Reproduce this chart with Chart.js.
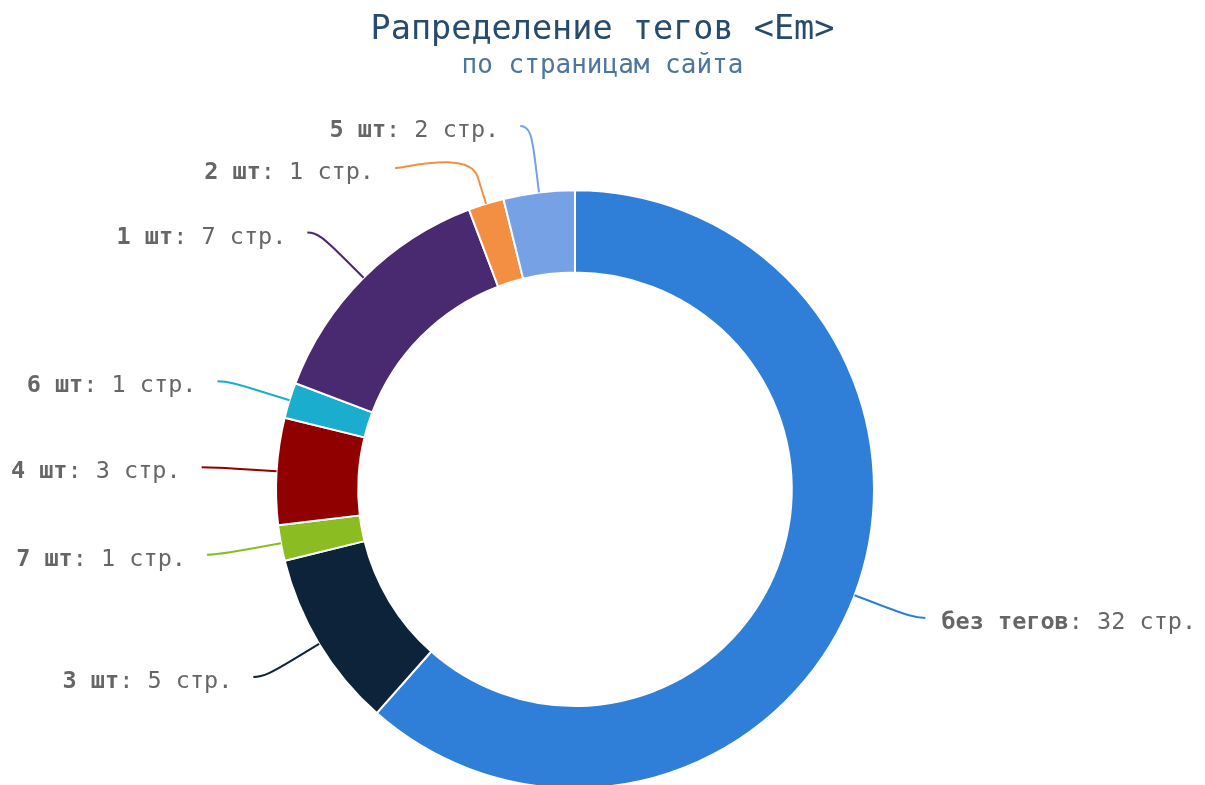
<!DOCTYPE html>
<html lang="ru">
<head>
<meta charset="utf-8">
<title>Рапределение тегов &lt;Em&gt;</title>
<script src="https://cdn.jsdelivr.net/npm/chart.js@4.4.1/dist/chart.umd.min.js"></script>
<style>
  html, body { margin: 0; padding: 0; background: #fff; overflow: hidden; }
  #wrap { position: relative; width: 1205px; height: 800px; }
</style>
</head>
<body>
<div id="wrap"><canvas id="grafico-em"></canvas></div>
<script>
const categorias = ['без тегов', '3 шт', '7 шт', '4 шт', '6 шт', '1 шт', '2 шт', '5 шт'];
const paginas = [32, 5, 1, 3, 1, 7, 1, 2];
const colores = ['#2f7ed8', '#0d233a', '#8bbc21', '#910000', '#1aadce', '#492970', '#f28f43', '#77a1e5'];
const sufijo = ' стр.';

const fuente = "'DejaVu Sans Mono', 'Liberation Mono', monospace";

// empuja la dona a la izquierda, sin mover los titulos
const espaciador = {
  position: 'right',
  weight: 0,
  fullSize: false,
  options: {},
  width: 0, height: 0, left: 0, top: 0, right: 0, bottom: 0,
  isHorizontal() { return false; },
  update(maxWidth, maxHeight) { this.width = 55; this.height = maxHeight; },
  draw() {}
};

// reparte las etiquetas de un lado para que no se encimen
const repartir = (items, minY, maxY, size) => {
  items.sort((a, b) => a.target - b.target);
  const colocar = g => {
    g.pos = Math.min(Math.max(g.target - g.size / 2, minY), maxY - g.size);
  };
  let grupos = items.map(it => ({ items: [it], target: it.target, size }));
  grupos.forEach(colocar);
  let cambio = true;
  while (cambio) {
    cambio = false;
    for (let i = 0; i < grupos.length - 1; i++) {
      const a = grupos[i], b = grupos[i + 1];
      if (a.pos + a.size > b.pos + 0.01) {
        const todos = a.items.concat(b.items);
        const g = { items: todos, size: a.size + b.size, target: todos.reduce((s, it) => s + it.target, 0) / todos.length };
        colocar(g);
        grupos.splice(i, 2, g);
        cambio = true;
        break;
      }
    }
  }
  grupos.forEach(g => g.items.forEach((it, k) => { it.y = g.pos + size * k + size / 2; }));
};

const etiquetasPlugin = {
  id: 'etiquetas',
  beforeInit(chart) {
    Chart.layouts.addBox(chart, espaciador);
  },
  afterDraw(chart, args, opts) {
    const meta = chart.getDatasetMeta(0);
    const ctx = chart.ctx;
    const izq = [], der = [];

    meta.data.forEach((arc, i) => {
      const a = (arc.startAngle + arc.endAngle) / 2;
      const r = arc.outerRadius;
      const R = r + opts.distancia;
      const item = { i, cos: Math.cos(a), sin: Math.sin(a), cx: arc.x, cy: arc.y, r, R };
      item.target = arc.y + R * item.sin;
      (item.cos < 0 ? izq : der).push(item);
    });

    repartir(izq, opts.arriba, opts.abajo, opts.alto);
    repartir(der, opts.arriba, opts.abajo, opts.alto);

    ctx.save();
    ctx.textBaseline = 'middle';
    [...izq, ...der].forEach(it => {
      const lado = it.cos < 0 ? -1 : 1;
      const dy = Math.min(Math.abs(it.y - it.cy), Math.abs(it.target - it.cy));
      const xFin = it.cx + lado * (Math.sqrt(Math.max(it.R * it.R - dy * dy, 0)) + opts.relleno);

      const ex = it.cx + it.r * it.cos, ey = it.cy + it.r * it.sin;
      const bx = it.cx + (it.r + opts.quiebre) * it.cos, by = it.cy + (it.r + opts.quiebre) * it.sin;

      ctx.beginPath();
      ctx.moveTo(xFin, it.y);
      ctx.bezierCurveTo(xFin - lado * 10, it.y, 2 * bx - ex, 2 * by - ey, bx, by);
      ctx.lineTo(ex, ey);
      ctx.strokeStyle = colores[it.i];
      ctx.lineWidth = 2;
      ctx.stroke();

      const nombre = categorias[it.i];
      const resto = ': ' + paginas[it.i] + sufijo;
      ctx.fillStyle = '#666666';
      ctx.font = 'bold ' + opts.tamano + 'px ' + fuente;
      const w1 = ctx.measureText(nombre).width;
      ctx.font = opts.tamano + 'px ' + fuente;
      const w2 = ctx.measureText(resto).width;
      const x0 = lado > 0 ? xFin + opts.huecoDer : xFin - opts.huecoIzq - w1 - w2;
      const ty = it.y + 5;
      ctx.textAlign = 'left';
      ctx.font = 'bold ' + opts.tamano + 'px ' + fuente;
      ctx.fillText(nombre, x0, ty);
      ctx.font = opts.tamano + 'px ' + fuente;
      ctx.fillText(resto, x0 + w1, ty);
    });
    ctx.restore();
  }
};

new Chart(document.getElementById('grafico-em'), {
  type: 'doughnut',
  data: {
    labels: categorias,
    datasets: [{
      data: paginas,
      backgroundColor: colores,
      borderColor: '#ffffff',
      borderWidth: 2
    }]
  },
  options: {
    responsive: true,
    maintainAspectRatio: false,
    animation: false,
    events: [],
    radius: 299,
    cutout: '72.5%',
    layout: { padding: { top: 0, bottom: 0, left: 0, right: 0 } },
    plugins: {
      legend: { display: false },
      tooltip: { enabled: false },
      title: {
        display: true,
        text: 'Рапределение тегов <Em>',
        color: '#274b6d',
        font: { family: fuente, size: 33.5, weight: 'normal', lineHeight: 1 },
        padding: { top: 14, bottom: 0 }
      },
      subtitle: {
        display: true,
        text: 'по страницам сайта',
        color: '#4d759e',
        font: { family: fuente, size: 26, weight: 'normal', lineHeight: 1 },
        padding: { top: 6, bottom: 99 }
      },
      etiquetas: {
        distancia: 64,
        quiebre: 28,
        relleno: 11,
        huecoDer: 16,
        huecoIzq: 21,
        tamano: 23.5,
        alto: 42,
        arriba: 105,
        abajo: 800
      }
    }
  },
  plugins: [etiquetasPlugin]
});
</script>
</body>
</html>
